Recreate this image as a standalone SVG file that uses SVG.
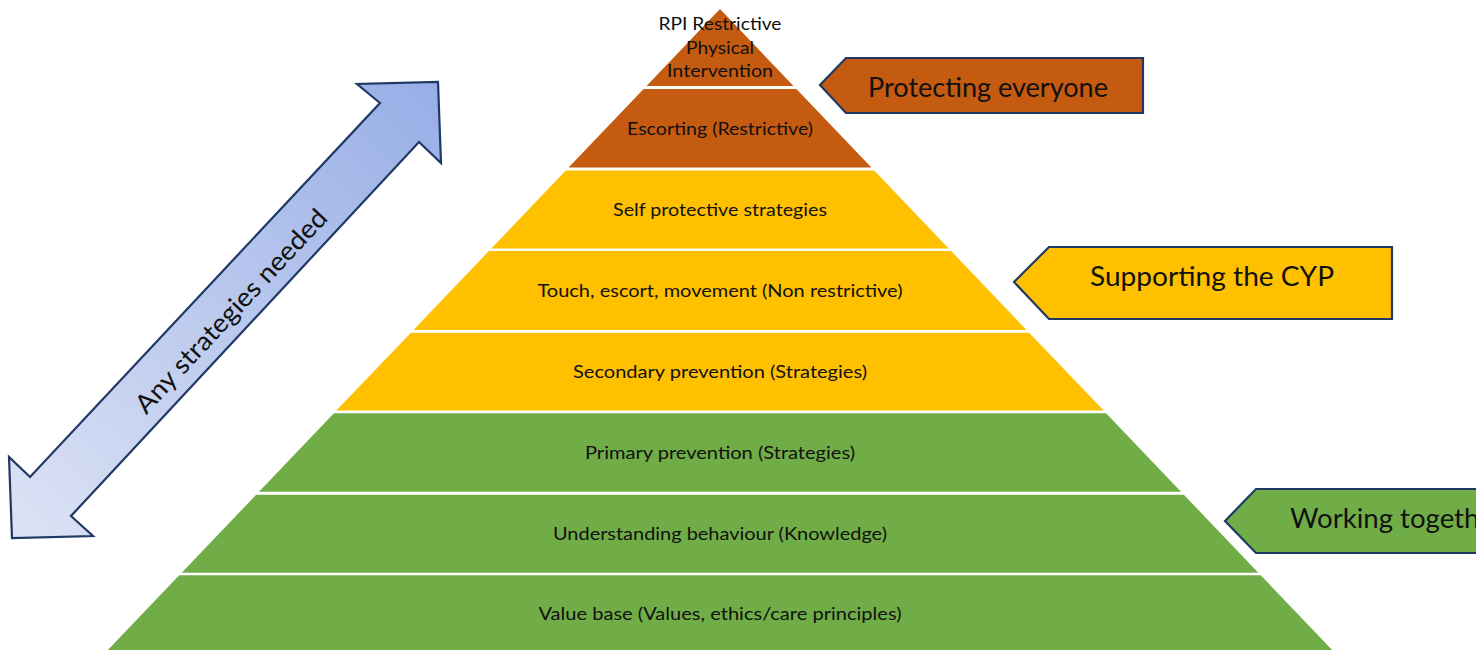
<svg xmlns="http://www.w3.org/2000/svg" width="1476" height="650" viewBox="0 0 1476 650">
  <defs>
    <linearGradient id="blueGrad" gradientUnits="userSpaceOnUse" x1="10" y1="538" x2="440" y2="82">
      <stop offset="0" stop-color="#DDE3F5"/>
      <stop offset="1" stop-color="#97AEE6"/>
    </linearGradient>
    <style>
      .orange { fill: #C55A11; }
      .yellow { fill: #FFC000; }
      .green { fill: #70AD47; }
      .lbl { font-family: Lato, "Liberation Sans", sans-serif; font-size: 18px; fill: #111111; text-anchor: middle; }
      .tag { stroke: #1F3864; stroke-width: 2.2; stroke-linejoin: miter; }
      .tagtxt { font-family: Lato, "Liberation Sans", sans-serif; font-size: 26px; fill: #111111; }
      .arrow { fill: url(#blueGrad); stroke: #1F3864; stroke-width: 2.2; stroke-linejoin: miter; }
    </style>
  </defs>
  <rect x="0" y="0" width="1476" height="650" fill="#FFFFFF"/>

  <g id="level-rpi">
    <polygon class="orange" points="720,9 793.5,86 646.5,86"/>
    <text class="lbl" x="720" y="30" textLength="123" lengthAdjust="spacingAndGlyphs">RPI Restrictive</text>
    <text class="lbl" x="720" y="54" textLength="68" lengthAdjust="spacingAndGlyphs">Physical</text>
    <text class="lbl" x="720" y="77" textLength="106" lengthAdjust="spacingAndGlyphs">Intervention</text>
  </g>
  <g id="level-escorting">
    <polygon class="orange" points="643.6,89 796.4,89 871.4,167.5 568.6,167.5"/>
    <text class="lbl" x="720" y="135" textLength="186" lengthAdjust="spacingAndGlyphs">Escorting (Restrictive)</text>
  </g>
  <g id="level-self-protective">
    <polygon class="yellow" points="565.8,170.5 874.2,170.5 948.7,248.5 491.3,248.5"/>
    <text class="lbl" x="720" y="216" textLength="214" lengthAdjust="spacingAndGlyphs">Self protective strategies</text>
  </g>
  <g id="level-touch">
    <polygon class="yellow" points="488.9,251 951.1,251 1026.6,330 413.4,330"/>
    <text class="lbl" x="720" y="297" textLength="365" lengthAdjust="spacingAndGlyphs">Touch, escort, movement (Non restrictive)</text>
  </g>
  <g id="level-secondary">
    <polygon class="yellow" points="410.9,332.7 1029.1,332.7 1103.7,410.5 336.3,410.5"/>
    <text class="lbl" x="720" y="378" textLength="294" lengthAdjust="spacingAndGlyphs">Secondary prevention (Strategies)</text>
  </g>
  <g id="level-primary">
    <polygon class="green" points="333.9,413.3 1106.1,413.3 1181,491.7 259,491.7"/>
    <text class="lbl" x="720" y="459" textLength="270" lengthAdjust="spacingAndGlyphs">Primary prevention (Strategies)</text>
  </g>
  <g id="level-understanding">
    <polygon class="green" points="256.2,494.7 1183.8,494.7 1258.3,572.7 181.7,572.7"/>
    <text class="lbl" x="720" y="540" textLength="334" lengthAdjust="spacingAndGlyphs">Understanding behaviour (Knowledge)</text>
  </g>
  <g id="level-value-base">
    <polygon class="green" points="179.2,575.3 1260.8,575.3 1333.1,651 106.9,651"/>
    <text class="lbl" x="720" y="620" textLength="363" lengthAdjust="spacingAndGlyphs">Value base (Values, ethics/care principles)</text>
  </g>

  <g id="tag-protecting">
    <polygon class="tag orange" points="820,85 846,58 1143,58 1143,113 846,113"/>
    <text class="tagtxt" x="868" y="97" textLength="240" lengthAdjust="spacingAndGlyphs">Protecting everyone</text>
  </g>
  <g id="tag-supporting">
    <polygon class="tag yellow" points="1014,282 1049,247 1392,247 1392,319 1049,319"/>
    <text class="tagtxt" x="1090" y="286" textLength="244" lengthAdjust="spacingAndGlyphs">Supporting the CYP</text>
  </g>
  <g id="tag-working">
    <polygon class="tag green" points="1225,521 1256,489 1500,489 1500,553 1256,553"/>
    <text class="tagtxt" x="1290" y="528" textLength="214" lengthAdjust="spacingAndGlyphs">Working together</text>
  </g>

  <g id="connectors">
    <g id="arrow-any-strategies">
      <polygon class="arrow" points="438,82 441,163 419,142 71,516 93,536 12,538 9,457 30,477 380,103 357,84"/>
      <text transform="translate(231,311) rotate(-47)" x="0" y="9" font-family="Lato, 'Liberation Sans', sans-serif" font-size="26" fill="#111111" text-anchor="middle" textLength="268" lengthAdjust="spacingAndGlyphs">Any strategies needed</text>
    </g>
  </g>
</svg>
